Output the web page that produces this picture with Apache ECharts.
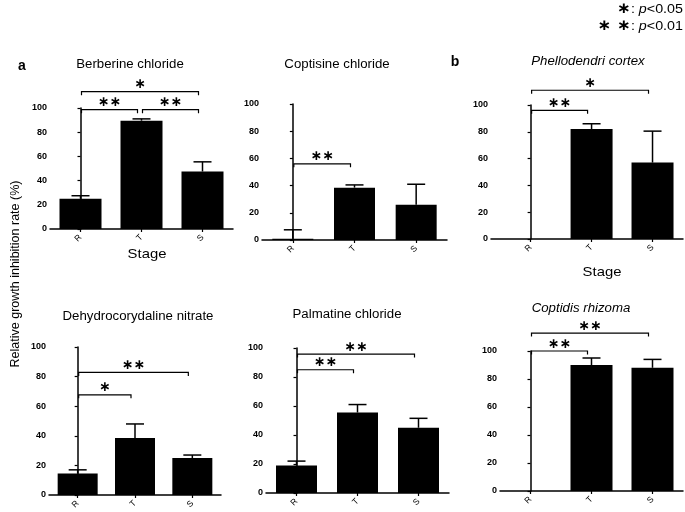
<!DOCTYPE html>
<html><head><meta charset="utf-8">
<script src="https://cdn.jsdelivr.net/npm/echarts@6/dist/echarts.min.js"></script>
<style>html,body{margin:0;padding:0;background:#fff}#c{width:685px;height:512px}</style>
</head><body><div id="c"></div>
<script>
const categories = ['R', 'T', 'S'];
const panelTitles = ['Berberine chloride', 'Coptisine chloride', 'Phellodendri cortex',
  'Dehydrocorydaline nitrate', 'Palmatine chloride', 'Coptidis rhizoma'];
const yTicks = [0, 20, 40, 60, 80, 100];

const berberineMean = [25, 89.5, 47.5];
const berberineSD = [2.5, 1.5, 8];
const coptisineMean = [1, 38.5, 26];
const coptisineSD = [6.5, 2, 15];
const phellodendriMean = [0, 82, 57];
const phellodendriSD = [0, 4, 23.5];
const dehydroMean = [14.5, 38.5, 25];
const dehydroSD = [2.5, 9.5, 2];
const palmatineMean = [19, 55.5, 45];
const palmatineSD = [3, 5.5, 6.5];
const coptidisMean = [0, 90, 88];
const coptidisSD = [0, 5, 6];

// significance brackets: [fromIndex, toIndex, height, numberOfStars]
const berberineSig = [[0, 1, 98.6, 2], [1, 2, 98.6, 2], [0, 2, 113.5, 1]];
const coptisineSig = [[0, 1, 56, 2]];
const phellodendriSig = [[0, 1, 96, 2], [0, 2, 111, 1]];
const dehydroSig = [[0, 1, 67.7, 1], [0, 2, 82.8, 2]];
const palmatineSig = [[0, 1, 85, 2], [0, 2, 95.8, 2]];
const coptidisSig = [[0, 1, 100, 2], [0, 2, 112.8, 2]];

const means = [berberineMean, coptisineMean, phellodendriMean, dehydroMean, palmatineMean, coptidisMean];
const sds = [berberineSD, coptisineSD, phellodendriSD, dehydroSD, palmatineSD, coptidisSD];
const sigs = [berberineSig, coptisineSig, phellodendriSig, dehydroSig, palmatineSig, coptidisSig];

const layout = [
  {left: 50, top: 108, width: 183, height: 121, min: -0.5, barW: 42, tx: 130, ty: 65, italic: false},
  {left: 262, top: 104, width: 185, height: 136, min: -0.5, barW: 41, tx: 337, ty: 65, italic: false},
  {left: 491, top: 105, width: 192, height: 134, min: -0.65, barW: 42, tx: 588, ty: 62, italic: true},
  {left: 49, top: 347, width: 172, height: 148, min: -0.5, barW: 40, tx: 138, ty: 317, italic: false},
  {left: 266, top: 348, width: 183, height: 145, min: -0.5, barW: 41, tx: 347, ty: 315, italic: false},
  {left: 500, top: 351, width: 183, height: 140, min: -0.5, barW: 42, tx: 581, ty: 309, italic: true}
];

const FONT = "'Liberation Sans', Arial, sans-serif";
const STX = 1.06;

function renderErr(params, api) {
  const x = api.value(0), m = api.value(1), s = api.value(2);
  if (!s) return null;
  const p0 = api.coord([x, m]), p1 = api.coord([x, m + s]);
  return {type: 'group', children: [
    {type: 'line', shape: {x1: p0[0], y1: p0[1], x2: p1[0], y2: p1[1]}, style: {stroke: '#000', lineWidth: 1.5}},
    {type: 'line', shape: {x1: p1[0] - 9, y1: p1[1], x2: p1[0] + 9, y2: p1[1]}, style: {stroke: '#000', lineWidth: 1.5}}
  ]};
}

function renderSig(params, api) {
  const a = api.value(0), b = api.value(1), h = api.value(2), n = api.value(3);
  const p1 = api.coord([a, h]), p2 = api.coord([b, h]);
  const x1 = p1[0] + 1, x2 = p2[0] - 4, y = p1[1];
  return {type: 'group', children: [
    {type: 'polyline', shape: {points: [[x1, y + 3.5], [x1, y], [x2, y], [x2, y + 3.5]]},
      style: {stroke: '#000', lineWidth: 1.2, fill: null}},
    {type: 'text', x: (x1 + x2) / 2, y: y - 7,
      style: {text: '∗'.repeat(n), fontFamily: 'DejaVu Sans', fontWeight: 'bold', fontSize: 14, fill: '#000', align: 'center', verticalAlign: 'middle'}}
  ]};
}

const grid = [], xAxis = [], yAxis = [], series = [], graphic = [];
layout.forEach((L, i) => {
  grid.push({left: L.left, top: L.top, width: L.width, height: L.height});
  xAxis.push({
    type: 'value', gridIndex: i, min: L.min, max: 2.5,
    splitLine: {show: false},
    axisLine: {show: true, onZero: false, lineStyle: {color: '#000', width: 1.5}},
    axisTick: {show: true, customValues: [0, 1, 2], length: 3, lineStyle: {color: '#000', width: 1.2}},
    axisLabel: {customValues: [0, 1, 2], formatter: v => categories[v] || '', rotate: 45,
      fontSize: 8.5, fontFamily: FONT, color: '#000', margin: 7}
  });
  yAxis.push({
    type: 'value', gridIndex: i, min: 0, max: 100, interval: 20,
    splitLine: {show: false},
    axisLine: {show: true, lineStyle: {color: '#000', width: 1.5}},
    axisTick: {show: true, length: 3, lineStyle: {color: '#000', width: 1.2}},
    axisLabel: {fontSize: 9, fontWeight: 'bold', fontFamily: "'Liberation Sans Narrow', 'Liberation Sans', sans-serif",
      color: '#000', margin: 3, formatter: v => yTicks.includes(v) ? String(v) : ''}
  });
  series.push({
    type: 'bar', xAxisIndex: i, yAxisIndex: i, barWidth: L.barW, silent: true,
    itemStyle: {color: '#000'},
    data: means[i].map((v, j) => [j, v])
  });
  series.push({
    type: 'custom', xAxisIndex: i, yAxisIndex: i, clip: false, silent: true, z: 5,
    renderItem: renderErr,
    data: means[i].map((v, j) => [j, v, sds[i][j]])
  });
  series.push({
    type: 'custom', xAxisIndex: i, yAxisIndex: i, clip: false, silent: true, z: 5,
    renderItem: renderSig,
    data: sigs[i]
  });
  graphic.push({type: 'text', x: L.tx, y: L.ty, scaleX: STX,
    style: {text: panelTitles[i], fontFamily: FONT, fontSize: 12.5, fontStyle: L.italic ? 'italic' : 'normal',
      fill: '#000', align: 'center', verticalAlign: 'middle'}});
});

const richLegend = {s: {fontFamily: 'DejaVu Sans', fontWeight: 'bold', fontSize: 15}, i: {fontStyle: 'italic', fontFamily: FONT, fontSize: 13}};
graphic.push(
  {type: 'text', x: 22, y: 66, style: {text: 'a', fontFamily: FONT, fontWeight: 'bold', fontSize: 14, fill: '#000', align: 'center', verticalAlign: 'middle'}},
  {type: 'text', x: 455, y: 62, style: {text: 'b', fontFamily: FONT, fontWeight: 'bold', fontSize: 14, fill: '#000', align: 'center', verticalAlign: 'middle'}},
  {type: 'text', x: 147, y: 254, scaleX: 1.1, style: {text: 'Stage', fontFamily: FONT, fontSize: 13.5, fill: '#000', align: 'center', verticalAlign: 'middle'}},
  {type: 'text', x: 602, y: 272, scaleX: 1.1, style: {text: 'Stage', fontFamily: FONT, fontSize: 13.5, fill: '#000', align: 'center', verticalAlign: 'middle'}},
  {type: 'text', x: 16, y: 274, rotation: Math.PI / 2, style: {text: 'Relative growth inhibition rate (%)', fontFamily: FONT, fontSize: 12.5, fill: '#000', align: 'center', verticalAlign: 'middle'}},
  {type: 'text', x: 683, y: 9, scaleX: 1.1, style: {text: '{s|∗}: {i|p}<0.05', fontFamily: FONT, fontSize: 13, fill: '#000', align: 'right', verticalAlign: 'middle', rich: richLegend}},
  {type: 'text', x: 683, y: 26, scaleX: 1.1, style: {text: '{s|∗ ∗}: {i|p}<0.01', fontFamily: FONT, fontSize: 13, fill: '#000', align: 'right', verticalAlign: 'middle', rich: richLegend}}
);

const chart = echarts.init(document.getElementById('c'), null, {renderer: 'canvas'});
chart.setOption({animation: false, backgroundColor: '#fff', grid, xAxis, yAxis, series, graphic});
</script>
</body></html>
